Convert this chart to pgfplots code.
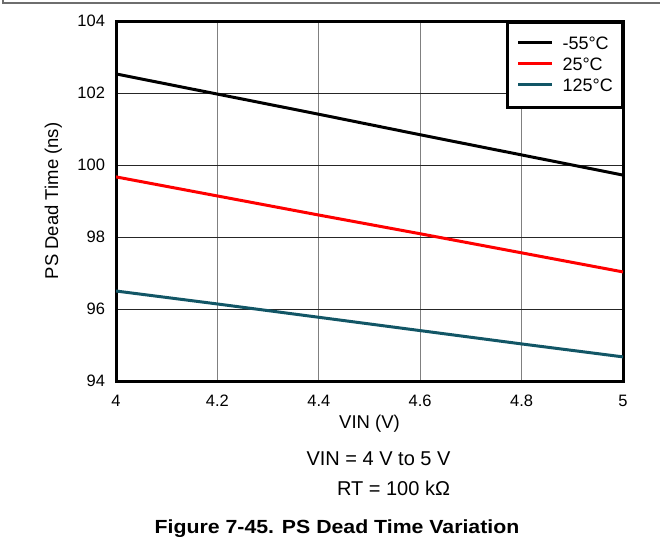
\documentclass[border=0pt]{standalone}
\usepackage{fontspec}
\setmainfont{Liberation Sans}
\newfontfamily\titlefont{Liberation Sans}[FakeStretch=1.12]
\usepackage{pgfplots}
\pgfplotsset{compat=1.18}
\definecolor{teal125}{RGB}{18,86,102}
\definecolor{framegray}{RGB}{110,110,110}
\begin{document}
\begin{tikzpicture}
\path[use as bounding box] (0pt,0pt) rectangle (660pt,542pt);
\draw[framegray, line width=1.2pt] (3pt,542pt) -- (3pt,539pt) -- (660pt,539pt);
\begin{axis}[
  at={(116pt,161pt)}, anchor=south west,
  scale only axis, width=507pt, height=360pt,
  xmin=4, xmax=5, ymin=94, ymax=104,
  xtick={4,4.2,4.4,4.6,4.8,5},
  xticklabels={4,4.2,4.4,4.6,4.8,5},
  ytick={94,96,98,100,102,104},
  grid=major,
  x grid style={line width=1pt, color=black!50},
  y grid style={line width=0.8pt, color=black!85},
  major tick length=0pt,
  axis line style={line width=3pt},
  tick label style={font=\fontsize{16.5}{19}\selectfont},
  /pgf/number format/assume math mode=true,
  xticklabel style={anchor=north, yshift=-10.5pt},
  yticklabel style={anchor=east, xshift=-7.5pt},
  xlabel={VIN (V)}, ylabel={PS Dead Time (ns)},
  label style={font=\fontsize{18.5}{22}\selectfont},
  xlabel style={at={(axis description cs:0.5,-0.1306)}, anchor=base},
  ylabel style={at={(axis description cs:-0.1144,0.5)}, anchor=base},
  legend style={at={(1,1)}, anchor=north east, draw=black, line width=2.5pt,
    font=\fontsize{18}{21}\selectfont, inner xsep=9pt, inner ysep=11pt,
    row sep=0pt, column sep=9pt,
    nodes={inner sep=0pt, text height=16.5pt, text depth=4.5pt}},
  legend cell align=left,
  legend image code/.code={\draw[#1, line width=3pt] (0pt,1.5pt) -- (34pt,1.5pt);},
]
\addplot[black, line width=3pt] coordinates {(4,102.53) (4.2,101.97) (4.4,101.41) (4.6,100.84) (4.8,100.28) (5,99.72)};
\addplot[red, line width=3pt] coordinates {(4,99.67) (4.2,99.14) (4.4,98.61) (4.6,98.09) (4.8,97.56) (5,97.03)};
\addplot[teal125, line width=3pt] coordinates {(4,96.50) (4.2,96.14) (4.4,95.77) (4.6,95.40) (4.8,95.03) (5,94.67)};
\legend{-55°C, 25°C, 125°C}
\end{axis}
\node[font=\fontsize{20}{24}\selectfont, anchor=base] at (378.5pt,77pt) {VIN = 4 V to 5 V};
\node[font=\fontsize{20}{24}\selectfont, anchor=base] at (393.5pt,47pt) {RT = 100 kΩ};
\node[font=\fontsize{19}{23}\titlefont\bfseries, anchor=base] at (337pt,9pt) {Figure 7-45. PS Dead Time Variation};
\end{tikzpicture}
\end{document}
